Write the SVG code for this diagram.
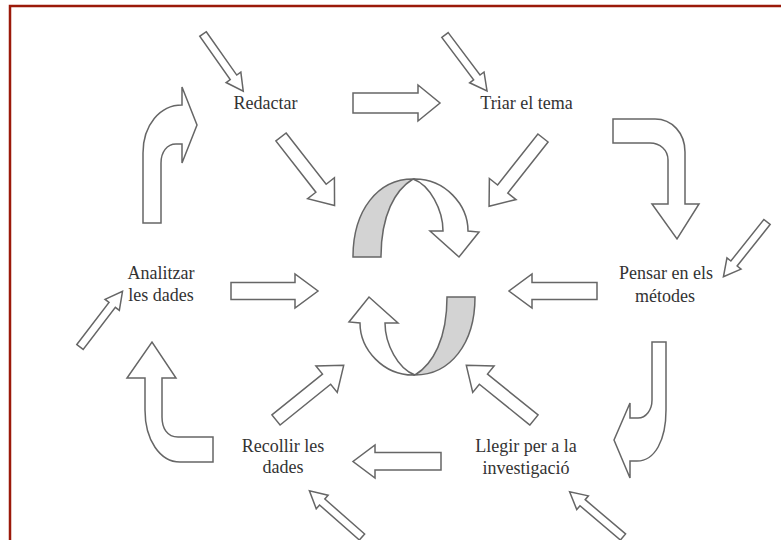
<svg xmlns="http://www.w3.org/2000/svg" width="781" height="540" viewBox="0 0 781 540">
  <style>
    .lbl { font-family: "Liberation Serif", "Times New Roman", serif; font-size: 18px; fill: #333; text-anchor: middle; }
    .arr { fill: #fff; stroke: #666; stroke-width: 1.5; stroke-linejoin: miter; }
    .back { fill: #d3d3d3; stroke: #666; stroke-width: 1.5; }
  </style>
  <defs>
    <!-- small inbound arrow, 70 long, pointing along +x -->
    <polygon id="small" points="0,-4 53,-4 53,-9 70,0 53,9 53,4 0,4"/>
    <!-- medium arrow toward the centre, 87 long -->
    <polygon id="medium" points="0,-6.5 65,-6.5 65,-17 87,0 65,17 65,6.5 0,6.5"/>
    <!-- half of the central cycle: grey back face plus white face with head -->
    <g id="ring">
      <path class="back" d="M353,257 L381,257 C381,215 395,190 413,179 C378,179 353,210 353,257 Z"/>
      <path class="arr" d="M413,179 C445,178 468,205 468,231 L479,232 L459,257 L430,231 L443,231 C443,210 430,185 413,179 Z"/>
    </g>
  </defs>

  <rect width="781" height="540" fill="#fff"/>
  <!-- frame: left and top edges only -->
  <path d="M10,540 V6 H781" fill="none" stroke="#9b1a0a" stroke-width="2.5"/>

  <g id="cycle">
    <use href="#ring"/>
    <use href="#ring" transform="rotate(180 414 277)"/>
  </g>

  <g id="connectors">
    <!-- inbound small arrows -->
    <use href="#small" class="arr" transform="translate(203,34) rotate(54.9)"/>
    <use href="#small" class="arr" transform="translate(445,35) rotate(53.1)"/>
    <use href="#small" class="arr" transform="translate(767,222) rotate(128.5)"/>
    <use href="#small" class="arr" transform="translate(623,537) rotate(220.3)"/>
    <use href="#small" class="arr" transform="translate(362,537) rotate(221.3)"/>
    <use href="#small" class="arr" transform="translate(80,347) rotate(-52.6)"/>

    <!-- arrows toward the centre -->
    <use href="#medium" class="arr" transform="translate(281,137) rotate(52)"/>
    <use href="#medium" class="arr" transform="translate(543,138) rotate(128.3)"/>
    <use href="#medium" class="arr" transform="translate(534,420) rotate(218.9)"/>
    <use href="#medium" class="arr" transform="translate(276,420) rotate(-38.9)"/>
    <polygon class="arr" points="231,282.5 295,282.5 295,274 318,291 295,308 295,299.5 231,299.5"/>
    <polygon class="arr" points="597,282.5 532,282.5 532,274 509,291 532,308 532,299.5 597,299.5"/>

    <!-- arrows between stages -->
    <polygon class="arr" points="353,93 418,93 418,85 440,103 418,121 418,113 353,113"/>
    <polygon class="arr" points="441,452.5 375,452.5 375,445 353,461.5 375,478 375,470 441,470"/>
    <path class="arr" d="M613,119 H655 C672,119 685,133 685,152 V204 H699 L677,239 L652,204 H668 V160 C668,150 660,143 650,143 H613 Z"/>
    <path class="arr" d="M652,342 H666 V410 C666,440 655,461 637,461 H630 V478 L614,440 L630,403 V418 H638 C646,418 652,410 652,400 Z"/>
    <path class="arr" d="M213,437 V462 H180 C160,462 145,440 145,410 V378 H127 L152,342 L176,378 H162 V417 C162,428 167,437 178,437 Z"/>
    <path class="arr" d="M143,223 V153 C143,125 160,105 182,105 V87 L197,125 L182,163 V144 H176 C167,144 161,152 161,163 V223 Z"/>
  </g>

  <g id="redactar"><text class="lbl" x="265.5" y="109">Redactar</text></g>
  <g id="triar"><text class="lbl" x="526.5" y="109">Triar el tema</text></g>
  <g id="pensar"><text class="lbl" x="666" y="279">Pensar en els</text><text class="lbl" x="665" y="302">métodes</text></g>
  <g id="llegir"><text class="lbl" x="526" y="452">Llegir per a la</text><text class="lbl" x="526" y="474">investigació</text></g>
  <g id="recollir"><text class="lbl" x="283" y="452">Recollir les</text><text class="lbl" x="283" y="473">dades</text></g>
  <g id="analitzar"><text class="lbl" x="161" y="279">Analitzar</text><text class="lbl" x="161" y="301">les dades</text></g>
</svg>
